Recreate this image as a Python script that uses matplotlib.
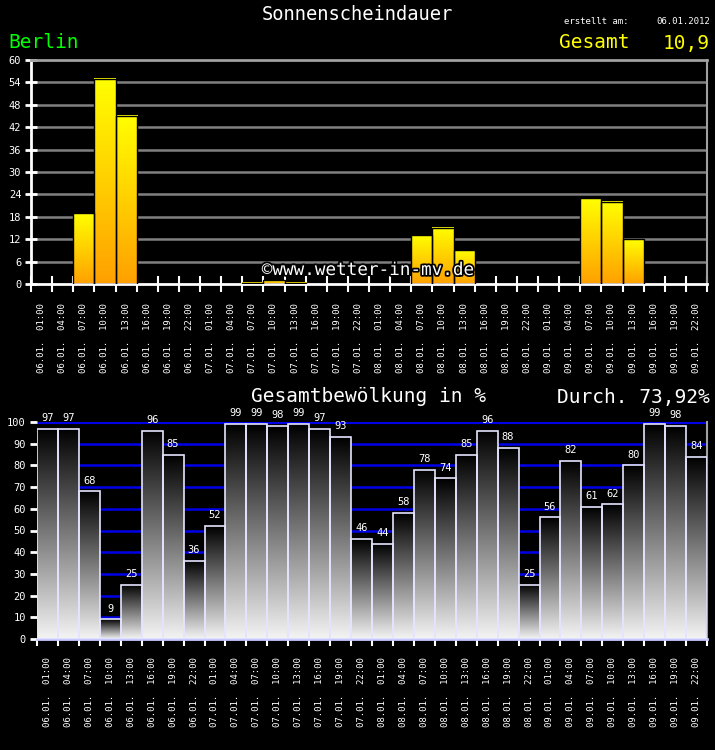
import numpy as np
import matplotlib
matplotlib.use('Agg')
import matplotlib.pyplot as plt
import matplotlib.patheffects as pe
from matplotlib.colors import LinearSegmentedColormap
from matplotlib.patches import Rectangle

# Daten
days = ['06.01.', '07.01.', '08.01.', '09.01.']
hours = ['01:00', '04:00', '07:00', '10:00', '13:00', '16:00', '19:00', '22:00']
tick_labels = [d + '  ' + h for d in days for h in hours]

sunshine = [0, 0, 19, 55, 45, 0, 0, 0,
            0, 0, 0.3, 1, 0.3, 0, 0, 0,
            0, 0, 13, 15, 9, 0, 0, 0,
            0, 0, 23, 22, 12, 0, 0, 0]

clouds = [97, 97, 68, 9, 25, 96, 85, 36,
          52, 99, 99, 98, 99, 97, 93, 46,
          44, 58, 78, 74, 85, 96, 88, 25,
          56, 82, 61, 62, 80, 99, 98, 84]

sun_yticks = list(range(0, 61, 6))
cloud_yticks = list(range(0, 101, 10))

mono = 'DejaVu Sans Mono'
plt.rcParams['font.family'] = mono

W, H = 715, 750
fig = plt.figure(figsize=(W / 100, H / 100), dpi=100, facecolor='black')

def box(x0, x1, ytop, ybot):
    return [x0 / W, 1 - ybot / H, (x1 - x0) / W, (ybot - ytop) / H]

n = len(tick_labels)
grad = np.linspace(0, 1, 256).reshape(-1, 1)
sun_cmap = LinearSegmentedColormap.from_list('sun', ['#ffa000', '#ffff00'])
cloud_cmap = LinearSegmentedColormap.from_list('cl', ['#f4f4f4', '#000000'])

# ---------- Sonnenscheindauer ----------
ax1 = fig.add_axes(box(31, 707, 60, 284))
ax1.set_facecolor('black')
for y in sun_yticks[1:-1]:
    ax1.axhline(y, color='#808080', lw=1.8, zorder=0.5)
for i, v in enumerate(sunshine):
    if v <= 0:
        continue
    ax1.imshow(grad, extent=(i, i + 1, 0, v), origin='lower', aspect='auto',
               cmap=sun_cmap, zorder=2)
    ax1.add_patch(Rectangle((i, 0), 1, v, fill=False, ec='black', lw=1, zorder=3))
ax1.set_xlim(0, n)
ax1.set_ylim(0, 60)
ax1.set_yticks(sun_yticks)
ax1.tick_params(axis='y', colors='white', labelsize=7.5, length=8, width=2,
                direction='inout', pad=3)
ax1.set_xticks(np.arange(n) + 0.5)
ax1.set_xticklabels(tick_labels, rotation=90, va='top', ha='center')
ax1.set_xticks(np.arange(n + 1), minor=True)
ax1.tick_params(axis='x', which='major', length=0, pad=14, colors='white', labelsize=6.5)
ax1.tick_params(axis='x', which='minor', length=11, width=1.5, color='white',
                direction='inout')
ax1.spines['left'].set_color('white')
ax1.spines['left'].set_linewidth(2)
ax1.spines['bottom'].set_color('white')
ax1.spines['bottom'].set_linewidth(2)
ax1.spines['top'].set_color('#a0a0a0')
ax1.spines['top'].set_linewidth(2)
ax1.spines['right'].set_color('#a0a0a0')
ax1.spines['right'].set_linewidth(1.5)

# ---------- Gesamtbewölkung ----------
ax2 = fig.add_axes(box(37, 707, 422, 639))
ax2.set_facecolor('black')
for y in cloud_yticks[1:]:
    ax2.axhline(y, color='#0000e8', lw=3 if y == 100 else 1.8, zorder=0.5)
for i, v in enumerate(clouds):
    ax2.imshow(grad, extent=(i, i + 1, 0, v), origin='lower', aspect='auto',
               cmap=cloud_cmap, zorder=2)
    ax2.add_patch(Rectangle((i, 0), 1, v, fill=False, ec='#e4e4ff', lw=1.2, zorder=3))
    ax2.text(i + 0.5, v + 5, str(v), color='white', fontsize=7.5,
             ha='center', va='center', zorder=4)
ax2.set_xlim(0, n)
ax2.set_ylim(0, 100)
ax2.set_yticks(cloud_yticks)
ax2.tick_params(axis='y', colors='white', labelsize=7.5, length=5, width=2,
                direction='out', pad=3)
ax2.set_xticks(np.arange(n) + 0.5)
ax2.set_xticklabels(tick_labels, rotation=90, va='top', ha='center')
ax2.set_xticks(np.arange(n + 1), minor=True)
ax2.tick_params(axis='x', which='major', length=0, pad=13, colors='white', labelsize=6.5)
ax2.tick_params(axis='x', which='minor', length=5, width=1.5, color='white',
                direction='out')
ax2.spines['left'].set_visible(False)
ax2.spines['top'].set_visible(False)
ax2.spines['bottom'].set_color('#c8c8ff')
ax2.spines['bottom'].set_linewidth(2)
ax2.spines['right'].set_color('#a0a0a0')
ax2.spines['right'].set_linewidth(1.5)

# ---------- Texte ----------
def ftext(x, y, s, **kw):
    return fig.text(x / W, 1 - y / H, s, family=mono, **kw)

ftext(357, 15, 'Sonnenscheindauer', color='white', fontsize=13.5, ha='center', va='center')
ftext(564, 22, 'erstellt am:', color='white', fontsize=6.5, ha='left', va='center')
ftext(710, 22, '06.01.2012', color='white', fontsize=6.5, ha='right', va='center')
ftext(8, 43, 'Berlin', color='#00ff00', fontsize=14, ha='left', va='center')
ftext(559, 43, 'Gesamt', color='#ffff00', fontsize=14, ha='left', va='center')
ftext(710, 43, '10,9', color='#ffff00', fontsize=14, ha='right', va='center')

ftext(251, 397, 'Gesamtbewölkung in %', color='white', fontsize=14, ha='left', va='center')
ftext(710, 397, 'Durch. 73,92%', color='white', fontsize=14, ha='right', va='center')

wm = ftext(368, 270, '©www.wetter-in-mv.de', color='white', fontsize=12.7,
           ha='center', va='center', zorder=10)
wm.set_path_effects([pe.withStroke(linewidth=2.5, foreground='black')])

fig.savefig('out.png', dpi=100, facecolor='black')
